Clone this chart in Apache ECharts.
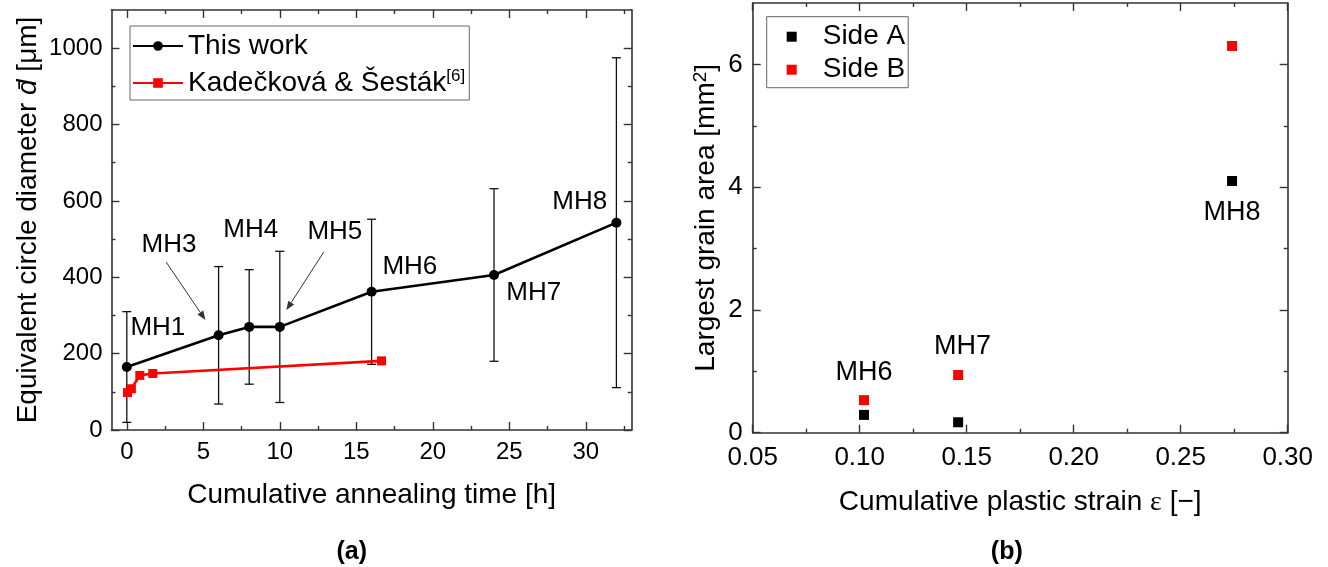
<!DOCTYPE html>
<html>
<head>
<meta charset="utf-8">
<script src="https://cdn.jsdelivr.net/npm/echarts@6/dist/echarts.min.js"></script>
<style>
  html, body { margin: 0; padding: 0; background: #fff; }
  #chart { width: 1328px; height: 567px; }
</style>
</head>
<body>
<div id="chart"></div>
<script>
// ---- Panel (a): mean equivalent circle diameter vs cumulative annealing time ----
const annealTime = [0, 6, 8, 10, 16, 24, 32];
const meanDiameter = [165, 248, 270, 270, 362, 406, 543];
const diameterSpread = [145, 180, 150, 198, 190, 226, 432];
const sampleTags = ['MH1', 'MH3', 'MH4', 'MH5', 'MH6', 'MH7', 'MH8'];
const refTime = [0.05, 0.3, 0.85, 1.7, 16.65];
const refDiameter = [98, 108, 143, 148, 181];
const timeTicks = [0, 5, 10, 15, 20, 25, 30];
const timeMinorTicks = [2.5, 7.5, 12.5, 17.5, 22.5, 27.5, 32.5];
const diameterTicks = [0, 200, 400, 600, 800, 1000];
const diameterMinorTicks = [100, 300, 500, 700, 900];

// ---- Panel (b): largest grain area vs cumulative plastic strain ----
const strain = [0.102, 0.146, 0.274];
const areaSideA = [0.29, 0.17, 4.10];
const areaSideB = [0.53, 0.94, 6.30];
const strainTags = ['MH6', 'MH7', 'MH8'];
const strainTicks = [0.05, 0.10, 0.15, 0.20, 0.25, 0.30];
const strainMinorTicks = [0.075, 0.125, 0.175, 0.225, 0.275];
const areaTicks = [0, 2, 4, 6];
const areaMinorTicks = [1, 3, 5];

// ---- annotation placement (data space) ----
const tagAnchorsA = [[2.03, 267], [2.76, 484], [8.1, 523], [13.6, 518], [18.5, 427], [26.6, 359], [29.6, 597]];
const arrowsA = [[2.57, 440, 5.14, 288], [12.87, 466, 10.43, 314]];
const tagAnchorsB = [[0.102, 0.98], [0.148, 1.41], [0.274, 3.58]];

const FONT = '"Liberation Sans", Arial, sans-serif';
const AXIS = '#333';
const KS = 'Kadečková & Šesták';

// Four axes per side pair: labelled main axis, its minor ticks, and the mirrored box edge.
function boxAxes(dim, grid, min, max, major, minor, label, extra) {
  const sides = dim === 'x' ? ['bottom', 'top'] : ['left', 'right'];
  const base = { type: 'value', gridIndex: grid, min: min, max: max, splitLine: { show: false } };
  const line = { show: true, onZero: false, lineStyle: { color: AXIS, width: 1.6 } };
  const tick = (vals, len) => ({ show: true, inside: true, length: len, customValues: vals,
                                  lineStyle: { color: AXIS, width: 1.4 } });
  return [
    Object.assign({}, base, { position: sides[0], axisLine: line, axisTick: tick(major, 8),
      axisLabel: Object.assign({ customValues: major, color: '#000', fontFamily: FONT }, label) }, extra),
    Object.assign({}, base, { position: sides[0], axisLine: { show: false, onZero: false },
      axisTick: tick(minor, 4), axisLabel: { show: false } }),
    Object.assign({}, base, { position: sides[1], axisLine: line, axisTick: tick(major, 8),
      axisLabel: { show: false } }),
    Object.assign({}, base, { position: sides[1], axisLine: { show: false, onZero: false },
      axisTick: tick(minor, 4), axisLabel: { show: false } })
  ];
}

const nameStyle = { fontSize: 28, color: '#000', fontFamily: FONT, lineHeight: 30 };

const xAxes = [].concat(
  boxAxes('x', 0, -1, 33, timeTicks, timeMinorTicks,
    { fontSize: 24, margin: 10, formatter: v => String(v) },
    { name: 'Cumulative annealing time [h]', nameLocation: 'middle', nameGap: 50, nameTextStyle: nameStyle }),
  boxAxes('x', 1, 0.05, 0.30, strainTicks, strainMinorTicks,
    { fontSize: 26, margin: 12, formatter: v => v.toFixed(2) },
    { name: 'Cumulative plastic strain {eps|ε} [−]', nameLocation: 'middle', nameGap: 55,
      nameTextStyle: Object.assign({}, nameStyle, { rich: { eps: { fontSize: 28, fontFamily: '"Liberation Serif", serif', color: '#000' } } }) })
);

const yAxes = [].concat(
  boxAxes('y', 0, 0, 1100, diameterTicks, diameterMinorTicks,
    { fontSize: 24, margin: 9, formatter: v => String(v) },
    { name: 'Equivalent circle diameter {it|d\u0304} [μm]', nameLocation: 'middle', nameGap: 68,
      nameTextStyle: Object.assign({}, nameStyle, { rich: { it: { fontSize: 28, fontStyle: 'italic', fontFamily: FONT, color: '#000' } } }) }),
  boxAxes('y', 1, 0, 7, areaTicks, areaMinorTicks,
    { fontSize: 26, margin: 10, formatter: v => String(v) },
    { name: 'Largest grain area [mm{sup|2}]', nameLocation: 'middle', nameGap: 31,
      nameTextStyle: Object.assign({}, nameStyle, { rich: { sup: { fontSize: 19, verticalAlign: 'top', lineHeight: 30, fontFamily: FONT, color: '#000' } } }) })
);

const errorBarData = annealTime.map((t, i) => [t, meanDiameter[i] - diameterSpread[i], meanDiameter[i] + diameterSpread[i]]);

function renderErrorBar(params, api) {
  const x = api.value(0);
  const lo = api.coord([x, api.value(1)]);
  const hi = api.coord([x, api.value(2)]);
  const cap = 4.5;
  const st = { stroke: '#111', lineWidth: 1.3 };
  return {
    type: 'group',
    children: [
      { type: 'line', shape: { x1: lo[0], y1: lo[1], x2: hi[0], y2: hi[1] }, style: st },
      { type: 'line', shape: { x1: lo[0] - cap, y1: lo[1], x2: lo[0] + cap, y2: lo[1] }, style: st },
      { type: 'line', shape: { x1: hi[0] - cap, y1: hi[1], x2: hi[0] + cap, y2: hi[1] }, style: st }
    ]
  };
}

function renderArrow(params, api) {
  const a = api.coord([api.value(0), api.value(1)]);
  const b = api.coord([api.value(2), api.value(3)]);
  const ang = Math.atan2(b[1] - a[1], b[0] - a[0]);
  const L = 9, W = 3.5;
  const dx = Math.cos(ang), dy = Math.sin(ang);
  const bx = b[0] - L * dx, by = b[1] - L * dy;
  return {
    type: 'group',
    children: [
      { type: 'line', shape: { x1: a[0], y1: a[1], x2: bx, y2: by }, style: { stroke: '#333', lineWidth: 1 } },
      { type: 'polygon', shape: { points: [[b[0], b[1]], [bx - W * dy, by + W * dx], [bx + W * dy, by - W * dx]] },
        style: { fill: '#333' } }
    ]
  };
}

const tagLabel = { show: true, position: 'inside', formatter: p => p.name, fontSize: 26, color: '#000', fontFamily: FONT };

const option = {
  animation: false,
  backgroundColor: '#fff',
  grid: [
    { left: 111.5, top: 10, width: 520.2, height: 420 },
    { left: 752.7, top: 3, width: 535, height: 429.7 }
  ],
  xAxis: xAxes,
  yAxis: yAxes,
  legend: [
    {
      data: [{ name: 'This work' }, { name: KS }],
      left: 130, top: 26, orient: 'vertical', selectedMode: false,
      itemWidth: 50, itemHeight: 12, itemGap: 7, padding: [5, 4, 2, 2],
      borderColor: '#666', borderWidth: 1,
      formatter: n => (n === KS ? n + '{sup|[6]}' : n),
      textStyle: { fontSize: 28, lineHeight: 30, color: '#000', fontFamily: FONT,
        rich: { sup: { fontSize: 17, lineHeight: 30, verticalAlign: 'top', color: '#000', fontFamily: FONT } } }
    },
    {
      data: [{ name: 'Side A', icon: 'rect' }, { name: 'Side B', icon: 'rect' }],
      left: 766.7, top: 16.7, orient: 'vertical', selectedMode: false,
      itemWidth: 10, itemHeight: 10, itemGap: 3, padding: [5, 3, 3, 20],
      borderColor: '#666', borderWidth: 1,
      formatter: n => '{gap| }' + n,
      textStyle: { fontSize: 28, lineHeight: 30, color: '#000', fontFamily: FONT,
        rich: { gap: { width: 21, fontSize: 28, lineHeight: 30 } } }
    }
  ],
  graphic: [
    { type: 'text', x: 351.7, y: 552, style: { text: '(a)', fontSize: 25, fontWeight: 'bold', fontFamily: FONT, fill: '#000', align: 'center', verticalAlign: 'middle' } },
    { type: 'text', x: 1006.8, y: 552, style: { text: '(b)', fontSize: 25, fontWeight: 'bold', fontFamily: FONT, fill: '#000', align: 'center', verticalAlign: 'middle' } }
  ],
  series: [
    {
      name: 'error', type: 'custom', xAxisIndex: 0, yAxisIndex: 0, z: 2, silent: true,
      renderItem: renderErrorBar, data: errorBarData
    },
    {
      name: 'This work', type: 'line', xAxisIndex: 0, yAxisIndex: 0, z: 4,
      data: annealTime.map((t, i) => [t, meanDiameter[i]]),
      symbol: 'circle', symbolSize: 10, color: '#000',
      lineStyle: { color: '#000', width: 2.6 }, itemStyle: { color: '#000', opacity: 1 }
    },
    {
      name: KS, type: 'line', xAxisIndex: 0, yAxisIndex: 0, z: 3,
      data: refTime.map((t, i) => [t, refDiameter[i]]),
      symbol: 'rect', symbolSize: 9, color: '#ff0000',
      lineStyle: { color: '#ff0000', width: 2.6 }, itemStyle: { color: '#ff0000', opacity: 1 }
    },
    {
      name: 'tagsA', type: 'scatter', xAxisIndex: 0, yAxisIndex: 0, symbolSize: 0, silent: true,
      itemStyle: { opacity: 1 },
      data: sampleTags.map((t, i) => ({ name: t, value: tagAnchorsA[i] })), label: tagLabel
    },
    {
      name: 'arrowsA', type: 'custom', xAxisIndex: 0, yAxisIndex: 0, silent: true,
      renderItem: renderArrow, data: arrowsA
    },
    {
      name: 'Side A', type: 'scatter', xAxisIndex: 4, yAxisIndex: 4, z: 3,
      data: strain.map((s, i) => [s, areaSideA[i]]),
      symbol: 'rect', symbolSize: 10, color: '#000', itemStyle: { color: '#000', opacity: 1 }
    },
    {
      name: 'Side B', type: 'scatter', xAxisIndex: 4, yAxisIndex: 4, z: 3,
      data: strain.map((s, i) => [s, areaSideB[i]]),
      symbol: 'rect', symbolSize: 10, color: '#ff0000', itemStyle: { color: '#ff0000', opacity: 1 }
    },
    {
      name: 'tagsB', type: 'scatter', xAxisIndex: 4, yAxisIndex: 4, symbolSize: 0, silent: true,
      itemStyle: { opacity: 1 },
      data: strainTags.map((t, i) => ({ name: t, value: tagAnchorsB[i] })),
      label: Object.assign({}, tagLabel, { fontSize: 27 })
    }
  ]
};

const chart = echarts.init(document.getElementById('chart'), null, { renderer: 'canvas' });
chart.setOption(option);
</script>
</body>
</html>
